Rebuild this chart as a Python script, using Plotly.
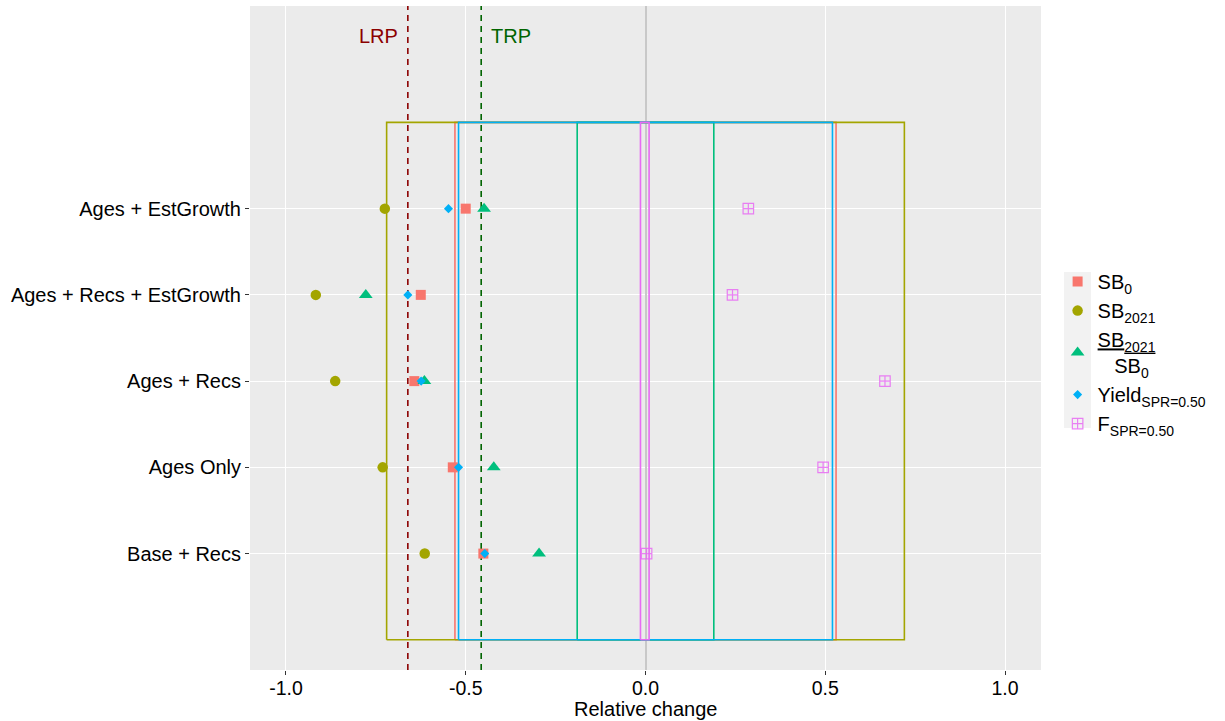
import plotly.graph_objects as go

# ---------------- data ----------------
categories = ["Base + Recs", "Ages Only", "Ages + Recs",
              "Ages + Recs + EstGrowth", "Ages + EstGrowth"]
cat_pos = [1, 2, 3, 4, 5]

sb0 = [-0.451, -0.536, -0.643, -0.625, -0.500]
sb2021 = [-0.614, -0.731, -0.863, -0.917, -0.725]
sb_ratio = [-0.296, -0.422, -0.615, -0.778, -0.449]
yield_spr = [-0.447, -0.520, -0.624, -0.661, -0.548]
f_spr = [0.003, 0.494, 0.666, 0.242, 0.286]

# reference boxes (low / high) for each quantity
box_lo = [-0.53, -0.72, -0.19, -0.52, -0.014]
box_hi = [0.53, 0.72, 0.19, 0.52, 0.010]
box_ymin, box_ymax = 0, 6

lrp = -0.661
trp = -0.457
ref_label_y = 7

x_ticks = [-1.0, -0.5, 0.0, 0.5, 1.0]
x_ticktext = ["-1.0", "-0.5", "0.0", "0.5", "1.0"]
x_title = "Relative change"

series_names = [
    "SB<sub>0</sub>",
    "SB<sub>2021</sub>",
    "<u>SB<sub>2021</sub></u><br>\u00a0\u00a0\u00a0SB<sub>0</sub>",
    "Yield<sub>SPR=0.50</sub>",
    "F<sub>SPR=0.50</sub>",
]
series_values = [sb0, sb2021, sb_ratio, yield_spr, f_spr]
colors = ["#F8766D", "#A3A500", "#00BF7D", "#00B0F6", "#E76BF3"]
symbols = ["square", "circle", "triangle-up", "diamond", "square-cross-open"]
sizes = [10, 10.5, 12, 7, 10.5]

FONT = "Liberation Sans, Arial, sans-serif"
Y_RANGE = [-0.35, 7.35]

fig = go.Figure()

# boxes
for lo, hi, col in zip(box_lo, box_hi, colors):
    fig.add_trace(go.Scatter(
        x=[lo, hi, hi, lo, lo],
        y=[box_ymin, box_ymin, box_ymax, box_ymax, box_ymin],
        mode="lines", line=dict(color=col, width=1.6),
        showlegend=False, hoverinfo="skip"))

# reference lines
for xv, col in [(lrp, "#8B0000"), (trp, "#006400")]:
    fig.add_trace(go.Scatter(
        x=[xv, xv], y=Y_RANGE, mode="lines",
        line=dict(color=col, width=1.6, dash="6px,5px"),
        showlegend=False, hoverinfo="skip"))

# points
for name, vals, col, sym, sz in zip(series_names, series_values, colors, symbols, sizes):
    marker = dict(color=col, symbol=sym, size=sz)
    if sym.endswith("open"):
        marker["line"] = dict(color=col, width=1.2)
        marker["opacity"] = 0.85
    fig.add_trace(go.Scatter(
        x=vals, y=cat_pos, mode="markers", name=name, marker=marker))

fig.add_annotation(x=lrp, y=ref_label_y, xref="x", yref="y", text="LRP",
                   showarrow=False, xanchor="right", xshift=-8,
                   font=dict(family=FONT, size=20, color="#8B0000"))
fig.add_annotation(x=trp, y=ref_label_y, xref="x", yref="y", text="TRP",
                   showarrow=False, xanchor="left", xshift=8,
                   font=dict(family=FONT, size=20, color="#006400"))

# x-axis title
fig.add_annotation(x=0.5, y=-(709 - 670) / 664, xref="paper", yref="paper",
                   text=x_title, showarrow=False, xanchor="center",
                   yanchor="middle", borderpad=0,
                   font=dict(family=FONT, size=20, color="black"))

# legend key background
fig.add_shape(type="rect", xref="paper", yref="paper",
              x0=(1064 - 250) / 791, x1=(1091 - 250) / 791,
              y0=(670 - 428) / 664, y1=(670 - 272) / 664,
              fillcolor="#F2F2F2", line=dict(width=0), layer="below")

fig.update_layout(
    width=1225, height=721,
    margin=dict(l=250, r=184, t=6, b=51),
    paper_bgcolor="white", plot_bgcolor="#EBEBEB",
    font=dict(family=FONT, size=20, color="black"),
    showlegend=True,
    legend=dict(x=1.021, xanchor="left", y=0.478, yanchor="middle",
                bgcolor="rgba(0,0,0,0)", font=dict(size=20, color="black"),
                tracegroupgap=0),
    xaxis=dict(range=[-1.1, 1.1], tickvals=x_ticks, ticktext=x_ticktext,
               automargin=False,
               showgrid=True, gridcolor="white", gridwidth=1.4,
               zeroline=True, zerolinecolor="#C8C8C8", zerolinewidth=1.6,
               ticks="outside", ticklen=4, tickcolor="#333333", tickwidth=1.1,
               ticklabelstandoff=-3,
               tickfont=dict(size=19.5, color="black"),
               showline=False),
    yaxis=dict(range=Y_RANGE, tickvals=cat_pos, ticktext=categories,
               automargin=False,
               showgrid=True, gridcolor="white", gridwidth=1.4,
               zeroline=False,
               ticks="outside", ticklen=4, tickcolor="#333333", tickwidth=1.1,
               tickfont=dict(size=20, color="black"), showline=False),
)

fig.write_html("out.html")
